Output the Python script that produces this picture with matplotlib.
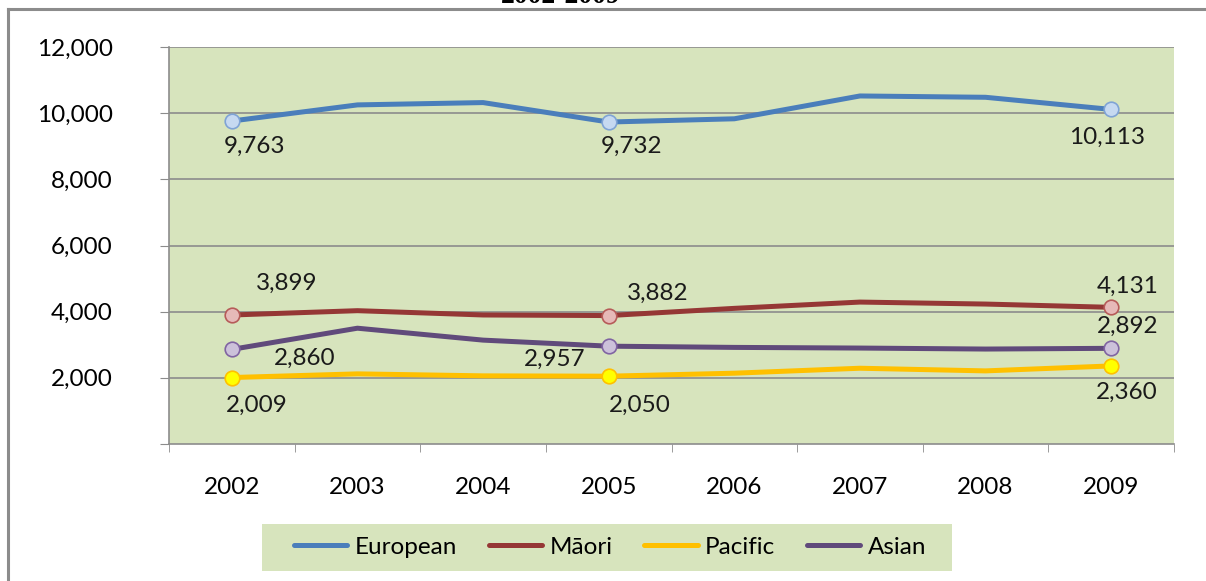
import numpy as np
import matplotlib.pyplot as plt
from matplotlib.lines import Line2D
from matplotlib.patches import Rectangle

plt.rcParams['font.family'] = ['Lato', 'DejaVu Sans']

# data
years = ['2002', '2003', '2004', '2005', '2006', '2007', '2008', '2009']
european = [9763, 10250, 10320, 9732, 9830, 10520, 10480, 10113]
maori = [3899, 4030, 3900, 3882, 4100, 4290, 4230, 4131]
pacific = [2009, 2120, 2060, 2050, 2140, 2290, 2210, 2360]
asian = [2860, 3500, 3140, 2957, 2920, 2900, 2870, 2892]
names = ['European', 'Māori', 'Pacific', 'Asian']

# labelled points: (series index, year index, offset px)
labels = [
    (0, 0, (23, -25)), (0, 3, (23, -24)), (0, 7, (-4, -28)),
    (1, 0, (55, 32)), (1, 3, (49, 22)), (1, 7, (16, 21)),
    (2, 0, (25, -28)), (2, 3, (31, -29)), (2, 7, (16, -26)),
    (3, 0, (73, -9)), (3, 3, (-54, -13)), (3, 7, (16, 22)),
]

colors = ['#4A7EBB', '#953735', '#FFC000', '#604A7B']
mfc = ['#C6D9F1', '#E6B9B8', '#FFFF00', '#CCC1DA']
mec = ['#7FA3D5', '#B65B59', '#FFC000', '#8064A2']
grid_c = '#8C8C8C'
bg = '#D7E4BD'
fs = 17.5

fig = plt.figure(figsize=(12.06, 5.81), dpi=100)
W, H = 1206, 581
ax = fig.add_axes([169 / W, 1 - 444 / H, (1174 - 169) / W, (444 - 47) / H])
ax.set_facecolor(bg)

series = [european, maori, pacific, asian]
x = np.arange(len(years))
for i, s in enumerate(series):
    ax.plot(x, s, color=colors[i], lw=3.6, solid_capstyle='round', zorder=3)

for si, yi, off in labels:
    v = series[si][yi]
    ax.plot(x[yi], v, 'o', ms=10.5, mfc=mfc[si], mec=mec[si], mew=1.2, zorder=4)
    ax.annotate(f'{v:,}', (x[yi], v), xytext=off, textcoords='offset pixels',
                ha='center', va='center', fontsize=fs, color='#1a1a1a')

ax.set_xlim(-0.5, len(years) - 0.5)
ax.set_ylim(0, 12000)
ax.set_yticks(np.arange(0, 12001, 2000))
ax.set_yticklabels([f'{v:,}' if v > 0 else '' for v in range(0, 12001, 2000)])
ax.set_xticks(x)
ax.set_xticklabels(years)
ax.set_xticks(np.arange(-0.5, len(years), 1), minor=True)
ax.tick_params(axis='x', which='major', length=0, pad=24, labelsize=fs)
ax.tick_params(axis='x', which='minor', length=5.8, color=grid_c, direction='out')
ax.tick_params(axis='y', length=6.5, color=grid_c, pad=34, labelsize=fs)
for yv in range(2000, 12001, 2000):
    ax.axhline(yv, color=grid_c, lw=1.2, zorder=1)
for sp in ['top', 'right']:
    ax.spines[sp].set_visible(False)
for sp in ['left', 'bottom']:
    ax.spines[sp].set_color(grid_c)
    ax.spines[sp].set_linewidth(1.2)

# legend
fig.patches.append(Rectangle((262 / W, 1 - 571 / H), (952 - 262) / W, 47 / H,
                             transform=fig.transFigure, facecolor=bg, edgecolor='none'))
handles = [Line2D([], [], color=c, lw=3.6, solid_capstyle='round') for c in colors]
fig.legend(handles, names, loc='center', bbox_to_anchor=(610 / W, 1 - 547 / H),
           ncol=4, frameon=False, fontsize=fs, handlelength=2.2, handletextpad=0.3,
           columnspacing=1.3)

# outer frame, cropped
fig.add_artist(Line2D([8 / W, 1], [1 - 9 / H, 1 - 9 / H], color='#8C8C8C', lw=2.2,
                      transform=fig.transFigure))
fig.add_artist(Line2D([8 / W, 8 / W], [0, 1 - 9 / H], color='#8C8C8C', lw=2.2,
                      transform=fig.transFigure))
fig.text(561 / W, 1 + 4 / H, '2002-2009', ha='center', va='center', fontsize=20,
         fontweight='bold', family='Liberation Serif')

fig.savefig('out.png', dpi=100)
